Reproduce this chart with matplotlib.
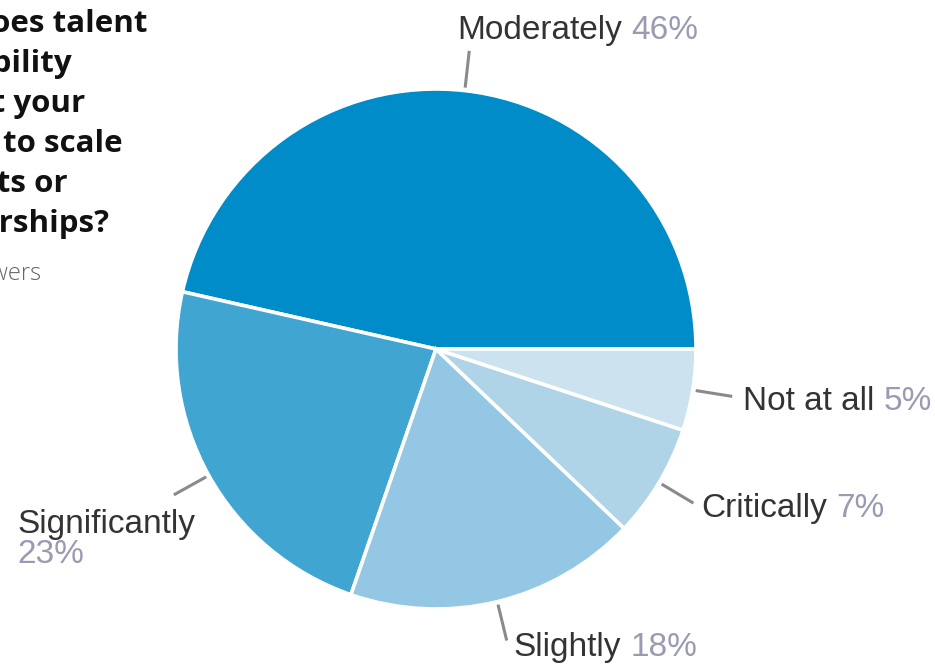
import numpy as np
import matplotlib.pyplot as plt

# survey answers, share of respondents (%)
categories = ["Moderately", "Significantly", "Slightly", "Critically", "Not at all"]
shares = [46, 23, 18, 7, 5]
colors = ["#008cc8", "#41a5d1", "#93c7e3", "#afd4e7", "#cbe3ef"]

title_lines = ["How does talent", "availability", "affect your",
               "ability to scale", "projects or", "partnerships?"]
subtitle = "Based on 120 answers"

W, H = 935, 664
fig = plt.figure(figsize=(W / 100, H / 100), dpi=100)
ax = fig.add_axes([0, 0, 1, 1])

cx, cy, R = 436, H - 349, 260
wedges, _ = ax.pie(shares, colors=colors, startangle=0, counterclock=True,
                   center=(cx, cy), radius=R,
                   wedgeprops=dict(edgecolor="white", linewidth=2.6))
ax.set_xlim(0, W)
ax.set_ylim(0, H)
ax.set_aspect("equal")
ax.axis("off")

label_font = dict(family="Liberation Sans", fontsize=24)
dark = "#333333"
grey = "#9a9ab2"

# offsets (px) of each label from the end of its leader line
offsets = {
    "Moderately": (-12, 12),
    "Significantly": (-156, -38),
    "Slightly": (7, -15),
    "Critically": (8, -14),
    "Not at all": (11, -14),
}

for w, name, val in zip(wedges, categories, shares):
    mid = np.deg2rad((w.theta1 + w.theta2) / 2)
    x0, y0 = cx + 263 * np.cos(mid), cy + 263 * np.sin(mid)
    x1, y1 = cx + 300 * np.cos(mid), cy + 300 * np.sin(mid)
    ax.plot([x0, x1], [y0, y1], color="#8a8a8a", lw=2.2, solid_capstyle="butt")
    dx, dy = offsets[name]
    if name == "Significantly":
        # this one wraps: name on top, percentage underneath
        ax.text(x1 + dx, y1 + dy, name, color=dark, ha="left", va="baseline",
                **label_font)
        ax.text(x1 + dx, y1 + dy - 30, f"{val}%", color=grey, ha="left",
                va="baseline", **label_font)
    else:
        t = ax.text(x1 + dx, y1 + dy, name, color=dark, ha="left",
                    va="baseline", **label_font)
        ax.annotate(f"{val}%", xy=(1, 0), xycoords=t, xytext=(9, 0),
                    textcoords="offset pixels", color=grey, ha="left",
                    va="bottom", **label_font)

# question text, each line right-aligned
right_edges = [148, 72, 85, 123, 68, 110]
for i, (line, xr) in enumerate(zip(title_lines, right_edges)):
    ax.text(xr, H - 32 - 40 * i, line, family="Open Sans", fontweight="bold",
            fontsize=22.5, color="#111111", ha="right", va="baseline")
ax.text(41, H - 280, subtitle, family="Open Sans", fontweight="light",
        fontsize=17, color="#666666", ha="right", va="baseline")

fig.savefig("out.png", dpi=100)
